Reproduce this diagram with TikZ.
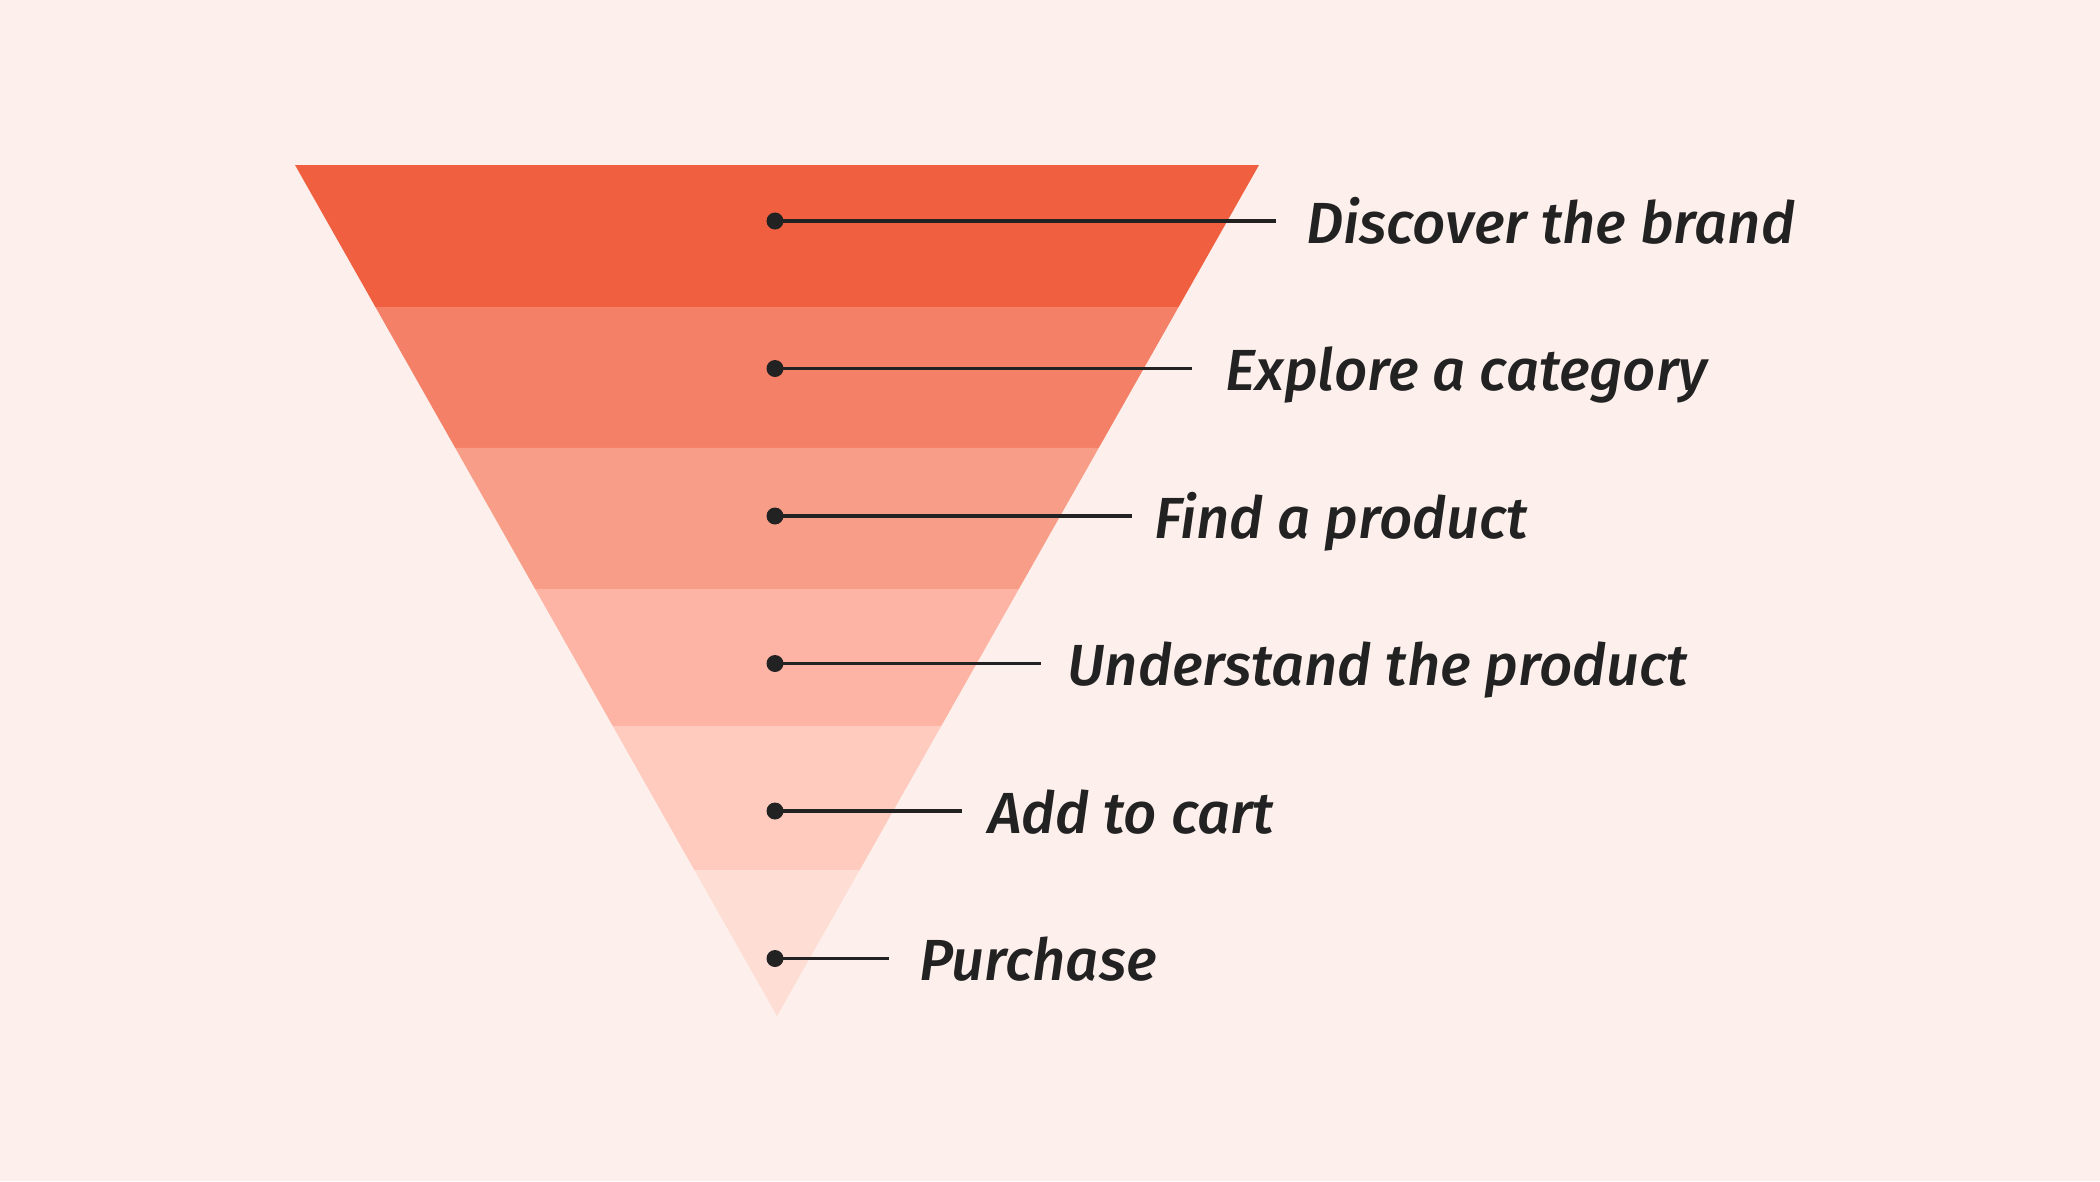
\documentclass[tikz,border=0pt]{standalone}
\usepackage{fontspec}
\setmainfont{Fira Sans}[ItalicFont=* Medium Italic]
\usetikzlibrary{calc}
\begin{document}
\begin{tikzpicture}[x=1pt,y=-1pt,
  dotmark/.style={circle,fill=ink,inner sep=0pt,minimum size=17pt},
  leader/.style={draw=ink,line width=3.4pt},
  stagelabel/.style={anchor=base west,inner sep=0pt,text=ink,font=\fontsize{58}{64}\selectfont\itshape}]
\definecolor{bgc}{HTML}{FDF0EC}
\definecolor{ink}{HTML}{222222}
\definecolor{bandA}{HTML}{F06040}
\definecolor{bandB}{HTML}{F48067}
\definecolor{bandC}{HTML}{F89E88}
\definecolor{bandD}{HTML}{FEB4A4}
\definecolor{bandE}{HTML}{FFCBBF}
\definecolor{bandF}{HTML}{FEDDD5}
\fill[bgc] (0,0) rectangle (2100,1181);
\useasboundingbox (0,0) rectangle (2100,1181);
% funnel: top (295,165)-(1259,165), apex (777,1016)
\coordinate (TL) at (295,165);
\coordinate (TR) at (1259,165);
\coordinate (AP) at (777,1016);
\foreach \ya/\yb/\c in {165/307/bandA,307/448/bandB,448/589/bandC,589/726/bandD,726/870/bandE} {
  \fill[\c] ($(TL)!{(\ya-165)/851}!(AP)$) -- ($(TR)!{(\ya-165)/851}!(AP)$)
     -- ($(TR)!{(\yb-165)/851}!(AP)$) -- ($(TL)!{(\yb-165)/851}!(AP)$) -- cycle;
}
\fill[bandF] ($(TL)!{705/851}!(AP)$) -- ($(TR)!{705/851}!(AP)$) -- (AP) -- cycle;
% stages
\foreach \i/\y/\xe/\xt/\t in {1/221/1276/1306/Discover the brand,
  2/368.5/1192/1225/Explore a category,
  3/516/1132/1154/Find a product,
  4/663.5/1041/1067/Understand the product,
  5/811/962/988/Add to cart,
  6/958.5/889/919/Purchase} {
  \node[dotmark] (d\i) at (775,\y) {};
  \coordinate (e\i) at (\xe,\y);
  \node[stagelabel] (t\i) at (\xt,\y+22) {\t};
  \draw[leader] (d\i.center) -- (e\i);
}
\end{tikzpicture}
\end{document}
